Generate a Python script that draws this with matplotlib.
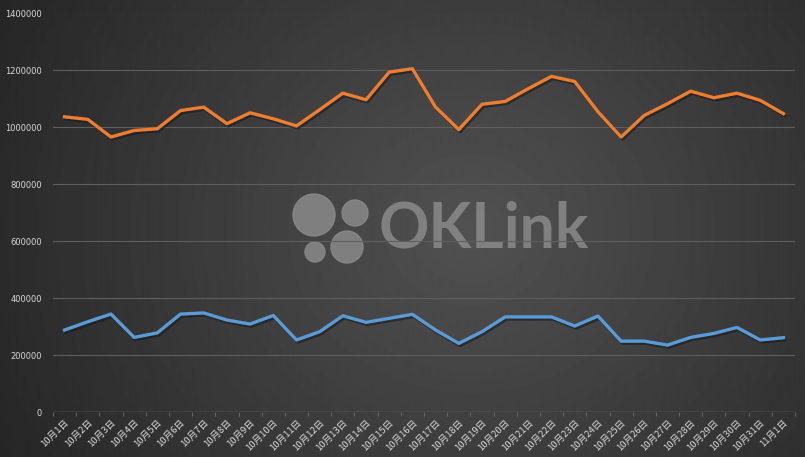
import numpy as np
import matplotlib
matplotlib.use("Agg")
import matplotlib.pyplot as plt
import matplotlib.patheffects as pe
from matplotlib.patches import Circle

plt.rcParams["font.family"] = ["Noto Sans CJK SC", "DejaVu Sans"]

dates = ["10月%d日" % d for d in range(1, 32)] + ["11月1日"]

orange = [1037000, 1028000, 966000, 989000, 995000, 1059000, 1071000, 1013000,
          1051000, 1030000, 1005000, 1062000, 1120000, 1097000, 1194000, 1206000,
          1071000, 992000, 1081000, 1091000, 1136000, 1179000, 1161000, 1055000,
          966000, 1042000, 1083000, 1127000, 1104000, 1120000, 1095000, 1048000]

blue = [288000, 317000, 344000, 262000, 278000, 344000, 348000, 323000,
        309000, 339000, 253000, 282000, 338000, 315000, 329000, 343000,
        288000, 241000, 282000, 334000, 334000, 334000, 302000, 337000,
        249000, 249000, 235000, 262000, 276000, 297000, 253000, 261000]

W, H = 805, 457
fig = plt.figure(figsize=(W / 100, H / 100), dpi=100)

# dark radial background like the excel dark theme
bg = fig.add_axes([0, 0, 1, 1])
yy, xx = np.mgrid[0:H, 0:W]
r = np.sqrt(((xx - 470) / 470.0) ** 2 + ((yy - 230) / 420.0) ** 2)
shade = np.clip(0.32 - 0.15 * r, 0.15, 0.32)
bg.imshow(shade, cmap="gray", vmin=0, vmax=1, aspect="auto", extent=[0, W, H, 0])
bg.set_xlim(0, W)
bg.set_ylim(H, 0)
bg.axis("off")

# watermark logo
logo_col = "#8a8a8a"
for cx, cy, rad in [(314, 215, 21), (355, 213, 13), (315, 252, 10), (347, 247, 16)]:
    bg.add_patch(Circle((cx, cy), rad, color=logo_col, alpha=0.85, zorder=2))
bg.text(379, 229, "OKLink", family="Lato", weight="bold", fontsize=45,
        color=logo_col, alpha=0.85, va="center", ha="left", zorder=2)

ax = fig.add_axes([53 / W, 1 - 412 / H, (795 - 53) / W, (412 - 13.5) / H])
ax.patch.set_alpha(0)
x = np.arange(len(dates))

shadow = [pe.SimpleLineShadow(offset=(1, -1.5), shadow_color="#1a1a1a", alpha=0.6), pe.Normal()]
ax.plot(x, orange, color="#ED7D31", lw=2.4, solid_joinstyle="round", path_effects=shadow, zorder=3)
ax.plot(x, blue, color="#5B9BD5", lw=2.4, solid_joinstyle="round", path_effects=shadow, zorder=3)

ax.set_xlim(-0.5, len(dates) - 0.5)
ax.set_ylim(0, 1400000)
ax.set_yticks(range(0, 1400001, 200000))
ax.set_yticklabels([str(v) for v in range(0, 1400001, 200000)], family="DejaVu Sans")
ax.grid(axis="y", color="#5e5e5e", lw=0.8)
ax.set_axisbelow(True)
for s in ax.spines.values():
    s.set_visible(False)
ax.axhline(0, color="#6e6e6e", lw=1.0, zorder=1)

ax.set_xticks(x)
ax.set_xticklabels(dates, rotation=45, ha="right", rotation_mode="anchor")
ax.set_xticks(np.arange(-0.5, len(dates)), minor=True)
ax.tick_params(axis="x", which="major", length=0, labelsize=6.8, colors="#d9d9d9", pad=4)
ax.tick_params(axis="x", which="minor", length=3, color="#6e6e6e")
ax.tick_params(axis="y", length=0, labelsize=6, colors="#d9d9d9", pad=8)

fig.savefig("out.png", dpi=100)
